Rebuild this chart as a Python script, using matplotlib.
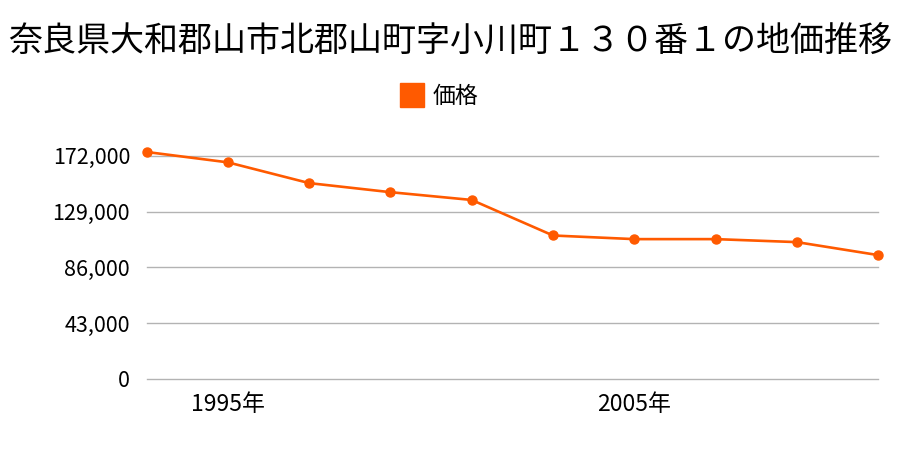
import matplotlib
matplotlib.use("Agg")
import matplotlib.pyplot as plt
from matplotlib.lines import Line2D

plt.rcParams['font.family'] = ['Noto Sans CJK JP', 'DejaVu Sans']

title = "奈良県大和郡山市北郡山町字小川町１３０番１の地価推移"
series_name = "価格"
years = [1993, 1995, 1997, 1999, 2001, 2003, 2005, 2007, 2009, 2011]
prices = [175000, 167000, 151000, 144000, 138000, 110600, 107800, 107800, 105500, 95500]
yticks = [0, 43000, 86000, 129000, 172000]
xticks = [1995, 2005]
xtick_labels = ["1995年", "2005年"]

color = "#ff5a00"

fig = plt.figure(figsize=(9, 4.5), dpi=100)
ax = fig.add_axes([0.163, 0.158, 0.8126, 0.4956])

ax.plot(years, prices, color=color, linewidth=1.9, marker="o", markersize=6.5,
        clip_on=False, zorder=3)

ax.set_xlim(1993, 2011)
ax.set_ylim(0, 172000)
ax.set_yticks(yticks)
ax.set_yticklabels([f"{v:,}" for v in yticks])
ax.set_xticks(xticks)
ax.set_xticklabels(xtick_labels)
ax.tick_params(axis="y", length=0, pad=12, labelsize=15.5)
ax.tick_params(axis="x", length=0, pad=10, labelsize=16.5)

for v in yticks:
    ax.axhline(v, color="#b3b3b3", linewidth=1, zorder=1, clip_on=False)
for s in ax.spines.values():
    s.set_visible(False)

fig.text(0.5, 0.907, title, ha="center", va="center", fontsize=24.5)

handle = Line2D([], [], color=color, marker="s", linestyle="none", markersize=17)
fig.legend([handle], [series_name], loc="center", bbox_to_anchor=(0.488, 0.785),
           frameon=False, fontsize=16.5, handletextpad=0.4, handlelength=1.0)

fig.savefig("out.png", dpi=100)
